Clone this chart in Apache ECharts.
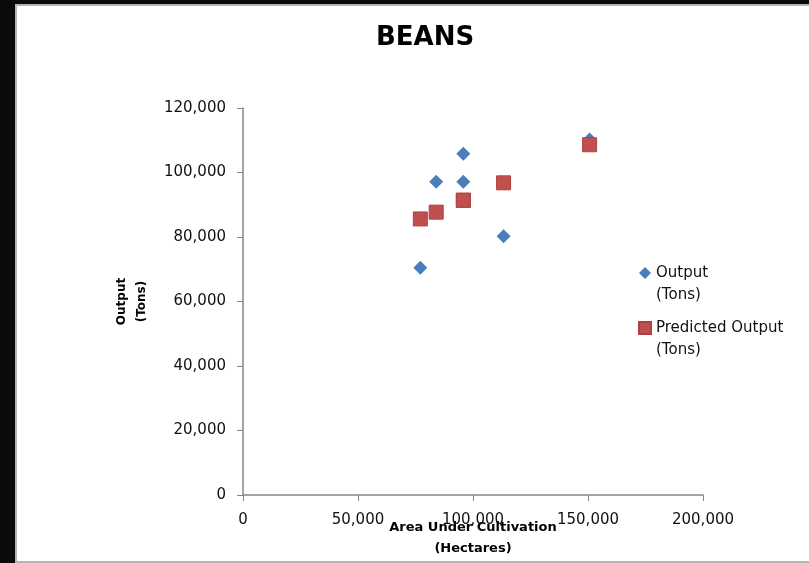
<!DOCTYPE html>
<html>
<head>
<meta charset="utf-8">
<script src="https://cdn.jsdelivr.net/npm/echarts@6/dist/echarts.min.js"></script>
<style>
  html, body { margin: 0; padding: 0; background: #fff; }
  #main { width: 809px; height: 563px; }
</style>
</head>
<body>
<div id="main"></div>
<script>
// area under cultivation (hectares)
var areaHa = [77100, 84000, 95800, 95800, 113300, 150700];
// actual output (tons)
var outputTons = [70500, 97100, 105800, 97100, 80200, 110200];
// predicted output (tons)
var predictedTons = [85600, 87700, 91400, 91400, 96800, 108600];

var xTicks = [0, 50000, 100000, 150000, 200000];
var yTicks = [0, 20000, 40000, 60000, 80000, 100000, 120000];

function pairs(xs, ys) {
    var out = [];
    for (var i = 0; i < xs.length; i++) {
        out.push([xs[i], ys[i]]);
    }
    return out;
}

function fmt(v) {
    return v.toLocaleString('en-US');
}

var chart = echarts.init(document.getElementById('main'));

var option = {
    backgroundColor: '#fff',
    animation: false,
    textStyle: { fontFamily: 'DejaVu Sans' },
    title: {
        text: 'BEANS',
        left: 371,
        top: 20,
        textStyle: { fontFamily: 'DejaVu Sans', fontSize: 26, fontWeight: 'bold', color: '#000' }
    },
    // frame: black edge + grey border like the pasted screenshot
    graphic: [
        { type: 'rect', shape: { x: 0, y: 0, width: 15, height: 563 }, style: { fill: '#0a0a0a' } },
        { type: 'rect', shape: { x: 0, y: 0, width: 809, height: 4 }, style: { fill: '#0a0a0a' } },
        { type: 'rect', shape: { x: 15, y: 4, width: 2, height: 559 }, style: { fill: '#b4b4b4' } },
        { type: 'rect', shape: { x: 15, y: 4, width: 794, height: 2 }, style: { fill: '#b4b4b4' } },
        { type: 'rect', shape: { x: 15, y: 561, width: 794, height: 2 }, style: { fill: '#b4b4b4' } }
    ],
    legend: {
        orient: 'vertical',
        left: 638,
        top: 240,
        padding: 0,
        itemWidth: 12,
        itemHeight: 12,
        itemGap: -11,
        data: [
            { name: 'Output\n(Tons)', icon: 'diamond' },
            { name: 'Predicted Output\n(Tons)', icon: 'rect' }
        ],
        // leading blank line keeps the icon level with the first line
        formatter: function (name) { return '\n' + name; },
        textStyle: {
            fontFamily: 'DejaVu Sans',
            fontSize: 15,
            color: '#111',
            lineHeight: 22
        }
    },
    grid: { left: 243, right: 106, top: 108, bottom: 68, outerBoundsMode: 'none' },
    xAxis: {
        type: 'value',
        min: xTicks[0],
        max: xTicks[xTicks.length - 1],
        interval: 50000,
        name: 'Area Under Cultivation\n(Hectares)',
        nameLocation: 'middle',
        nameGap: 22,
        nameMoveOverlap: false,
        nameTextStyle: { fontFamily: 'DejaVu Sans', fontSize: 13, fontWeight: 'bold', color: '#000', lineHeight: 21 },
        axisLine: { lineStyle: { color: '#868686', width: 1.5 } },
        axisTick: { inside: false, length: 6, lineStyle: { color: '#868686' } },
        axisLabel: { margin: 18, fontSize: 15, color: '#111', formatter: fmt },
        splitLine: { show: false }
    },
    yAxis: {
        type: 'value',
        min: yTicks[0],
        max: yTicks[yTicks.length - 1],
        interval: 20000,
        name: 'Output\n(Tons)',
        nameLocation: 'middle',
        nameRotate: 90,
        nameGap: 91,
        nameTextStyle: { fontFamily: 'DejaVu Sans', fontSize: 12, fontWeight: 'bold', color: '#000', lineHeight: 20 },
        axisLine: { show: true, lineStyle: { color: '#868686', width: 1.5 } },
        axisTick: { show: true, inside: false, length: 6, lineStyle: { color: '#868686' } },
        axisLabel: { margin: 17, fontSize: 15, color: '#111', formatter: fmt },
        splitLine: { show: false }
    },
    series: [
        {
            name: 'Output\n(Tons)',
            type: 'scatter',
            symbol: 'diamond',
            symbolSize: 14,
            itemStyle: { color: '#4a7ebb', opacity: 1 },
            data: pairs(areaHa, outputTons),
            z: 2
        },
        {
            name: 'Predicted Output\n(Tons)',
            type: 'scatter',
            symbol: 'rect',
            symbolSize: 14,
            itemStyle: { color: '#c0504d', borderColor: '#b0413e', borderWidth: 1, opacity: 1 },
            data: pairs(areaHa, predictedTons),
            z: 3
        }
    ]
};

chart.setOption(option);
</script>
</body>
</html>
